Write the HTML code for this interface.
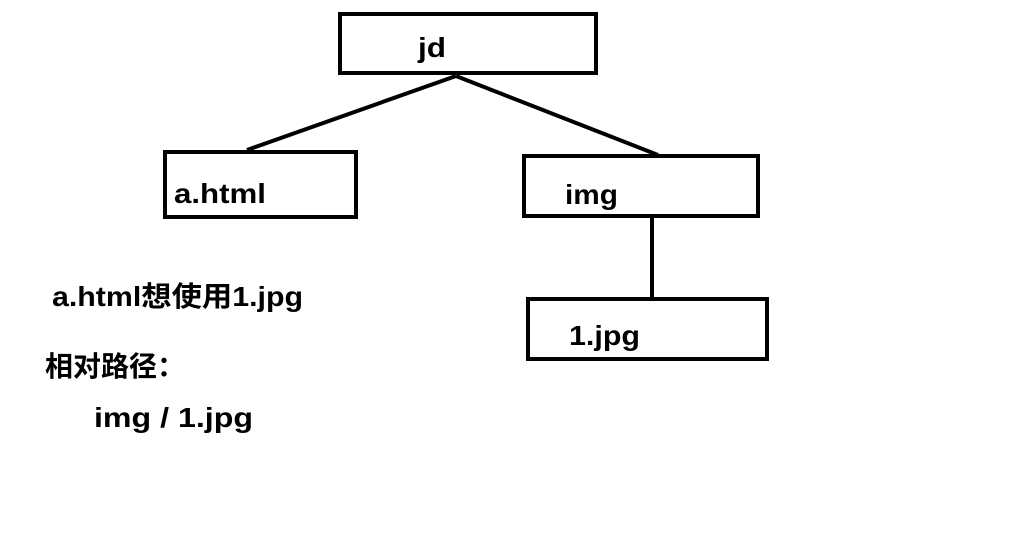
<!DOCTYPE html>
<html><head><meta charset="utf-8"><style>
html,body{margin:0;padding:0;background:#fff;width:1018px;height:553px;overflow:hidden}
svg text{font-family:"Liberation Sans","Noto Sans CJK SC",sans-serif;font-weight:bold;font-size:28px;fill:#000}
</style></head><body>
<svg width="1018" height="553" xmlns="http://www.w3.org/2000/svg">
<g fill="none" stroke="#000" stroke-width="4">
<rect x="340" y="14" width="256" height="59"/>
<rect x="165" y="152" width="191" height="65"/>
<rect x="524" y="156" width="234" height="60"/>
<rect x="528" y="299" width="239" height="60"/>
<line x1="456" y1="76" x2="247" y2="150"/>
<line x1="456" y1="76" x2="658" y2="155"/>
<line x1="652" y1="216" x2="652" y2="299"/>
</g>
<text x="418" y="57" textLength="28" lengthAdjust="spacingAndGlyphs">jd</text>
<text x="174" y="203" textLength="92" lengthAdjust="spacingAndGlyphs">a.html</text>
<text x="565" y="204" textLength="53" lengthAdjust="spacingAndGlyphs">img</text>
<text x="569" y="345" textLength="71" lengthAdjust="spacingAndGlyphs">1.jpg</text>
<text x="52" y="306" textLength="251" lengthAdjust="spacingAndGlyphs">a.html想使用1.jpg</text>
<text x="45" y="376" textLength="140" lengthAdjust="spacingAndGlyphs">相对路径：</text>
<text x="94" y="427" textLength="159" lengthAdjust="spacingAndGlyphs">img / 1.jpg</text>
</svg>
</body></html>
